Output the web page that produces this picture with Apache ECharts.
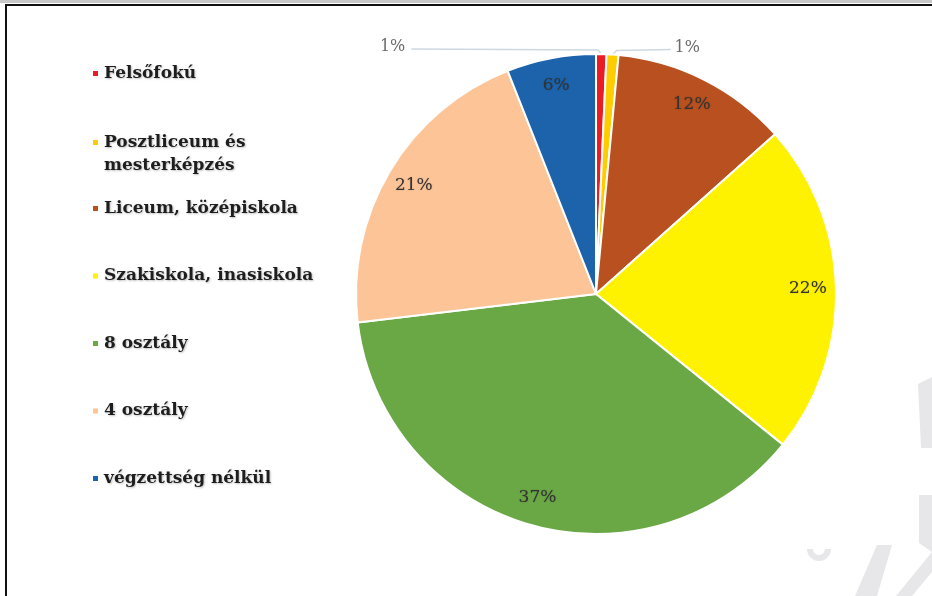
<!DOCTYPE html>
<html>
<head>
<meta charset="utf-8">
<script src="https://cdn.jsdelivr.net/npm/echarts@6/dist/echarts.min.js"></script>
<style>
  html, body { margin: 0; padding: 0; background: #fff; }
  #chart { width: 932px; height: 596px; }
</style>
</head>
<body>
<div id="chart"></div>
<script>
// Data
const categories = [
  'Felsőfokú',
  'Posztliceum és mesterképzés',
  'Liceum, középiskola',
  'Szakiskola, inasiskola',
  '8 osztály',
  '4 osztály',
  'végzettség nélkül'
];
const values = [0.7, 0.8, 11.9, 22.4, 37.3, 20.9, 6.0];
const colors = ['#ec1c24', '#ffcc00', '#b8501f', '#fff200', '#6aa745', '#fdc597', '#1c63ab'];

const CENTER = [596, 294];
const RADIUS = 240;
const FONT = 'DejaVu Serif';

const chart = echarts.init(document.getElementById('chart'), null, { renderer: 'canvas' });

const mainData = categories.map((name, i) => ({
  name: name,
  value: values[i],
  itemStyle: { color: colors[i] },
  label: { show: i < 2 },
  labelLine: { show: i < 2 }
}));
const labelData = categories.map((name, i) => ({
  name: name,
  value: values[i],
  label: { show: i >= 2 }
}));

const legendText = {
  fontFamily: FONT,
  fontSize: 17,
  fontWeight: 'bold',
  color: '#1e1e1e',
  lineHeight: 23,
  textShadowColor: 'rgba(0,0,0,0.25)',
  textShadowBlur: 2,
  textShadowOffsetX: 1,
  textShadowOffsetY: 1
};
const legendBase = {
  orient: 'vertical',
  left: 86,
  itemWidth: 7,
  itemHeight: 7,
  icon: 'rect',
  selectedMode: false,
  formatter: function (name) {
    // the wrapped entry keeps its marker on the first line (empty line above balances the block)
    return name === 'Posztliceum és mesterképzés' ? '\nPosztliceum és\nmesterképzés' : name;
  },
  textStyle: legendText
};

const wm = '#e7e7e9';

const option = {
  backgroundColor: '#ffffff',
  animation: false,
  color: colors,
  legend: [
    Object.assign({}, legendBase, { top: 57, data: categories.slice(0, 1) }),
    Object.assign({}, legendBase, { top: 103, data: categories.slice(1, 2) }),
    Object.assign({}, legendBase, { top: 192, itemGap: 44.5, data: categories.slice(2) })
  ],
  graphic: [
    // frame
    { type: 'rect', shape: { x: 0, y: 0, width: 932, height: 3 }, style: { fill: '#c8c8c8' }, silent: true },
    { type: 'rect', shape: { x: 5, y: 4, width: 927, height: 2 }, style: { fill: '#111' }, silent: true },
    { type: 'rect', shape: { x: 5, y: 4, width: 2, height: 592 }, style: { fill: '#111' }, silent: true },
    // faint watermark fragments (bottom right)
    { type: 'polygon', shape: { points: [[918, 384], [932, 377], [932, 448], [921, 448]] }, style: { fill: wm }, silent: true },
    { type: 'polygon', shape: { points: [[919, 495], [932, 495], [932, 552], [919, 543]] }, style: { fill: wm }, silent: true },
    { type: 'arc', shape: { cx: 819, cy: 549, r: 9, startAngle: 0, endAngle: Math.PI }, style: { stroke: wm, lineWidth: 6, fill: null }, silent: true },
    { type: 'polygon', shape: { points: [[855, 596], [877, 596], [892, 545], [877, 545]] }, style: { fill: wm }, silent: true },
    { type: 'polygon', shape: { points: [[896, 596], [912, 596], [932, 572], [932, 552]] }, style: { fill: wm }, silent: true }
  ],
  series: [
    {
      type: 'pie',
      center: CENTER,
      radius: [0, RADIUS],
      startAngle: 90,
      clockwise: true,
      avoidLabelOverlap: false,
      silent: true,
      itemStyle: { borderColor: '#ffffff', borderWidth: 2 },
      label: {
        position: 'outside',
        formatter: p => Math.round(p.value) + '%',
        fontFamily: FONT,
        fontSize: 16,
        color: '#6b6b6b'
      },
      labelLine: {
        length: 6,
        length2: 6,
        lineStyle: { color: '#cdd8e2', width: 1.5 }
      },
      labelLayout: function (p) {
        const pts = p.labelLinePoints;
        if (!pts || p.dataIndex > 1) return {};
        const p0 = pts[0];
        if (p.dataIndex === 0) {
          return {
            x: p0[0] - 196, y: p0[1] - 7, align: 'right', verticalAlign: 'middle',
            labelLinePoints: [p0, [p0[0] - 3, p0[1] - 4], [p0[0] - 190, p0[1] - 5]]
          };
        }
        return {
          x: p0[0] + 62, y: p0[1] - 7, align: 'left', verticalAlign: 'middle',
          labelLinePoints: [p0, [p0[0] + 4, p0[1] - 4], [p0[0] + 58, p0[1] - 5]]
        };
      },
      data: mainData
    },
    {
      type: 'pie',
      center: CENTER,
      radius: [178, RADIUS],
      startAngle: 90,
      clockwise: true,
      silent: true,
      itemStyle: { color: 'rgba(0,0,0,0)', borderWidth: 0 },
      label: {
        position: 'inside',
        formatter: p => Math.round(p.value) + '%',
        fontFamily: FONT,
        fontSize: 17,
        color: '#333333',
        textShadowColor: 'rgba(0,0,0,0.25)',
        textShadowBlur: 1.5
      },
      labelLine: { show: false },
      data: labelData
    }
  ]
};

chart.setOption(option);
</script>
</body>
</html>
